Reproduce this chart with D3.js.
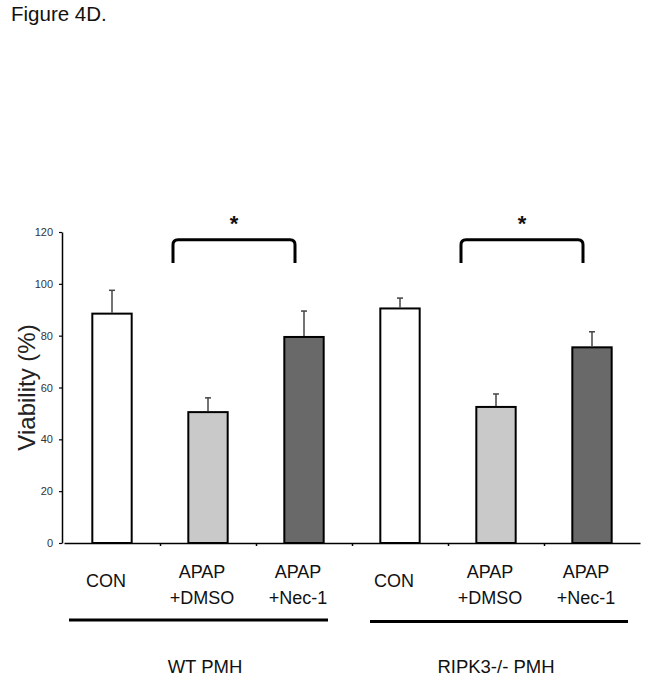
<!DOCTYPE html>
<html>
<head>
<meta charset="utf-8">
<script src="https://cdn.jsdelivr.net/npm/d3@7"></script>
<style>
  html, body { margin: 0; padding: 0; background: #fff; }
  svg { display: block; font-family: "Liberation Sans", Arial, sans-serif; }
</style>
</head>
<body>
<svg id="chart" width="646" height="682"></svg>
<script>
// ---- data ----
const title = "Figure 4D.";
const yTitle = "Viability (%)";
const groups = ["WT PMH", "RIPK3-/- PMH"];
const categories = [["CON"], ["APAP", "+DMSO"], ["APAP", "+Nec-1"]];
const wtValues = [88.5, 50.5, 79.5];
const wtErrors = [9, 5.5, 10];
const ripk3Values = [90.5, 52.5, 75.5];
const ripk3Errors = [4, 5, 6];
const fills = ["#ffffff", "#c9c9c9", "#696969"];
const yTicks = [0, 20, 40, 60, 80, 100, 120];
const comparisons = [[1, 2], [1, 2]]; // per group: category indices compared
const sigLabel = "*";

// ---- build rows ----
const seriesVals = [wtValues, ripk3Values];
const seriesErr = [wtErrors, ripk3Errors];
const rows = [];
groups.forEach((g, gi) => categories.forEach((c, ci) => {
  rows.push({ id: gi * 3 + ci, group: gi, cat: ci, label: c,
              value: seriesVals[gi][ci], err: seriesErr[gi][ci], fill: fills[ci] });
}));

const svg = d3.select("#chart");
const x = d3.scaleBand().domain(rows.map(d => d.id)).range([64, 640])
  .paddingInner(0.59).paddingOuter(0.295);
const y = d3.scaleLinear().domain([0, 120]).range([543, 232]);
const cx = id => x(id) + x.bandwidth() / 2;

// title
svg.append("text").attr("x", 11).attr("y", 21).attr("font-size", 20.5)
  .attr("fill", "#111").text(title);

// y axis
const yAxis = svg.append("g").attr("transform", "translate(62,0)")
  .call(d3.axisLeft(y).tickValues(yTicks).tickSize(3).tickSizeOuter(0).tickPadding(6));
yAxis.select(".domain").attr("stroke", "#000").attr("stroke-width", 1.5);
yAxis.selectAll(".tick line").attr("stroke", "#000").attr("stroke-width", 1.2);
yAxis.selectAll(".tick text").attr("font-size", 11).attr("fill", "#333")
  .attr("font-family", "Liberation Sans, Arial, sans-serif");

// y title
svg.append("text").attr("transform", `translate(35,${(y(0) + y(120)) / 2 + 0}) rotate(-90)`)
  .attr("text-anchor", "middle").attr("font-size", 24).attr("fill", "#222").text(yTitle);

// bars
svg.append("g").selectAll("rect").data(rows).join("rect")
  .attr("x", d => x(d.id)).attr("width", x.bandwidth())
  .attr("y", d => y(d.value)).attr("height", d => y(0) - y(d.value))
  .attr("fill", d => d.fill).attr("stroke", "#000").attr("stroke-width", 2);

// error bars
const eb = svg.append("g").attr("stroke", "#444").attr("stroke-width", 1.5);
eb.selectAll("line.v").data(rows).join("line").attr("class", "v")
  .attr("x1", d => cx(d.id)).attr("x2", d => cx(d.id))
  .attr("y1", d => y(d.value) - 1).attr("y2", d => y(d.value + d.err));
eb.selectAll("line.c").data(rows).join("line").attr("class", "c")
  .attr("x1", d => cx(d.id) - 3).attr("x2", d => cx(d.id) + 3)
  .attr("y1", d => y(d.value + d.err)).attr("y2", d => y(d.value + d.err));

// x axis
const xl = d3.scaleLinear().domain([0, rows.length]).range([64, 640]);
const xAxis = svg.append("g").attr("transform", `translate(0,${y(0)})`)
  .call(d3.axisBottom(xl).tickValues(d3.range(1, rows.length)).tickFormat("").tickSize(3).tickSizeOuter(0));
xAxis.select(".domain").attr("stroke", "#000").attr("stroke-width", 1.5);
xAxis.selectAll(".tick line").attr("stroke", "#000").attr("stroke-width", 1.5);

// category labels
const lab = svg.append("g").attr("font-size", 18).attr("fill", "#111").attr("text-anchor", "middle");
rows.forEach(d => {
  const t = lab.append("text").attr("x", cx(d.id) - 6);
  if (d.label.length === 1) {
    t.attr("y", 587).text(d.label[0]);
  } else {
    t.attr("y", 578);
    t.append("tspan").attr("x", cx(d.id) - 6).attr("dy", 0).text(d.label[0]);
    t.append("tspan").attr("x", cx(d.id) - 6).attr("dy", 26).text(d.label[1]);
  }
});

// group lines and labels
groups.forEach((g, gi) => {
  const ids = rows.filter(r => r.group === gi).map(r => r.id);
  const x0 = x(ids[0]) - x.step() * x.paddingInner() / 2;
  const x1 = x0 + x.step() * ids.length;
  const l0 = gi === 0 ? x0 + 5 : x0 + 18;
  const l1 = gi === 0 ? x1 - 24 : x1 - 12;
  svg.append("line").attr("x1", l0).attr("x2", l1)
    .attr("y1", 620 + gi * 1.5).attr("y2", 620 + gi * 1.5)
    .attr("stroke", "#000").attr("stroke-width", 3);
  svg.append("text").attr("x", cx(ids[1]) - (gi === 0 ? 3 : 0)).attr("y", 673)
    .attr("text-anchor", "middle").attr("font-size", 18.5).attr("fill", "#111").text(g);
});

// significance brackets
comparisons.forEach((cmp, gi) => {
  const a = rows.find(r => r.group === gi && r.cat === cmp[0]);
  const b = rows.find(r => r.group === gi && r.cat === cmp[1]);
  const xa = cx(a.id) - 35, xb = cx(b.id) - 9;
  const yt = y(117), yb = y(108), r = 5;
  const p = d3.path();
  p.moveTo(xa, yb);
  p.lineTo(xa, yt + r);
  p.quadraticCurveTo(xa, yt, xa + r, yt);
  p.lineTo(xb - r, yt);
  p.quadraticCurveTo(xb, yt, xb, yt + r);
  p.lineTo(xb, yb);
  svg.append("path").attr("d", p.toString()).attr("fill", "none")
    .attr("stroke", "#000").attr("stroke-width", 3);
  svg.append("text").attr("x", (xa + xb) / 2).attr("y", 231)
    .attr("text-anchor", "middle").attr("font-size", 22).attr("font-weight", "bold")
    .attr("fill", "#111").text(sigLabel);
});
</script>
</body>
</html>
